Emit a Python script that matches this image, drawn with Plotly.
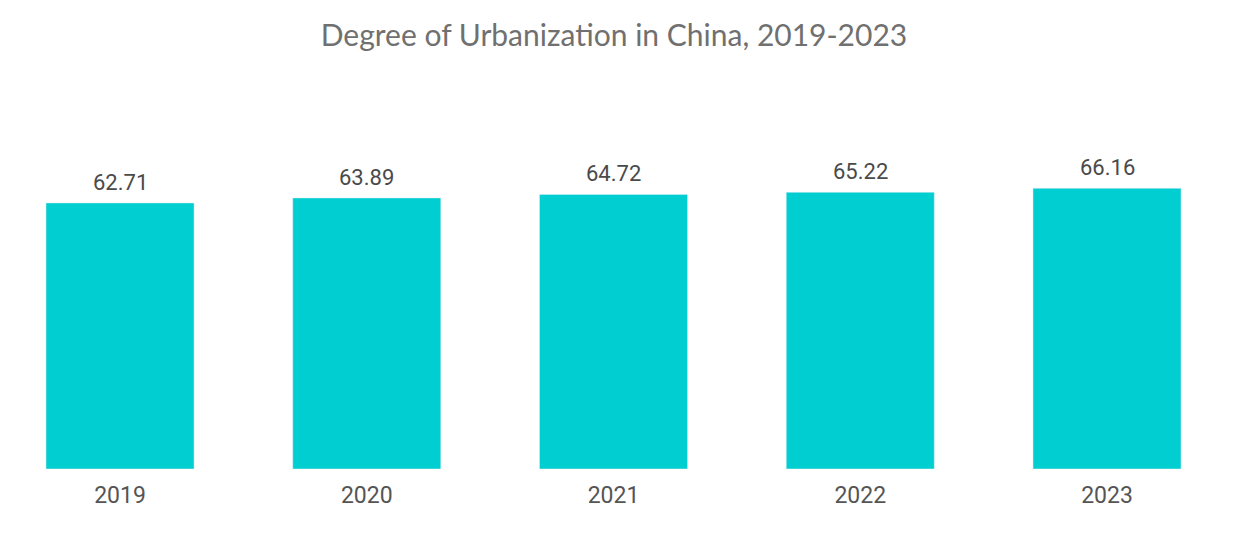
import plotly.graph_objects as go

years = ["2019", "2020", "2021", "2022", "2023"]
urbanization = [62.71, 63.89, 64.72, 65.22, 66.16]

fig = go.Figure()

fig.add_trace(go.Bar(
    x=years,
    y=urbanization,
    marker=dict(color="#00CED1"),
    hoverinfo="x+y",
))

# value labels above the bars (category index on the x axis)
for i, v in enumerate(urbanization):
    fig.add_annotation(
        x=i, y=v, text=f"{v:.2f}",
        showarrow=False, yanchor="bottom", yshift=6,
        font=dict(family="Roboto", size=22, color="#4a4a4a"),
    )

fig.update_layout(
    title=dict(
        text="Degree of Urbanization in China, 2019-2023",
        x=0.4955, xanchor="center", y=0.948, yanchor="middle",
        font=dict(family="Lato", size=30, color="#707070"),
    ),
    width=1223,
    height=537,
    margin=dict(l=0, r=0, t=164, b=76),
    bargap=0.4,
    plot_bgcolor="white",
    paper_bgcolor="white",
    showlegend=False,
    xaxis=dict(
        type="category",
        range=[-0.454, 4.5025],
        showline=False, showgrid=False, ticks="",
        ticklabelstandoff=10,
        tickfont=dict(family="Roboto", size=23, color="#555555"),
    ),
    yaxis=dict(visible=False, range=[0, 70]),
)

fig.write_html("out.html")
